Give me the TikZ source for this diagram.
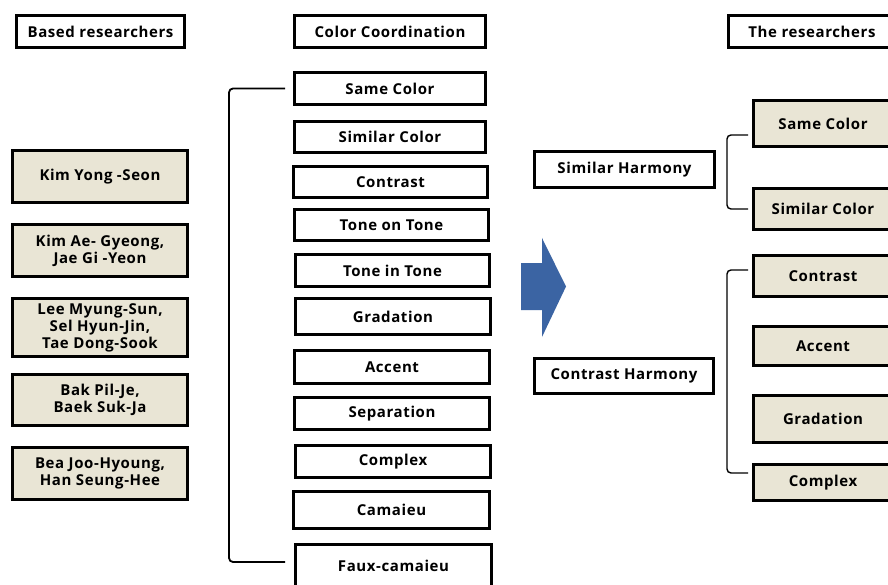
\documentclass[tikz,border=0pt]{standalone}
\usepackage{fontspec}
\setmainfont{Open Sans}[LetterSpace=4]
\definecolor{tanfill}{HTML}{E9E5D5}
\definecolor{arrowblue}{HTML}{3B64A3}
\begin{document}
\begin{tikzpicture}[x=1pt,y=-1pt,
  box/.style={draw=black, line width=2.8pt, inner sep=0pt, align=center,
    font=\fontsize{15}{17}\selectfont\bfseries},
  wbox/.style={box, fill=white},
  tbox/.style={box, fill=tanfill},
  bracket/.style={draw=black, line width=1.8pt, rounded corners=4pt}]
\useasboundingbox[fill=white] (0,0) rectangle (888,585);

% headers
\node[wbox, minimum width=168pt, minimum height=32pt] (based) at (100.5,31.5) {Based researchers};
\node[wbox, minimum width=191pt, minimum height=32pt] (coord) at (390,31.5) {Color Coordination};
\node[wbox, minimum width=167pt, minimum height=32pt] (them) at (812,31.5) {The researchers};

% left column
\node[tbox, minimum width=175pt, minimum height=52pt] (kim1) at (100,176.5) {Kim Yong -Seon};
\node[tbox, minimum width=175pt, minimum height=52pt] (kim2) at (100,250.5) {Kim Ae- Gyeong,\\Jae Gi -Yeon};
\node[tbox, minimum width=175pt, minimum height=58pt] (lee) at (100,327.5) {Lee Myung-Sun,\\Sel Hyun-Jin,\\Tae Dong-Sook};
\node[tbox, minimum width=175pt, minimum height=51pt] (bak) at (100,400) {Bak Pil-Je,\\Baek Suk-Ja};
\node[tbox, minimum width=175pt, minimum height=52pt] (bea) at (100,473.5) {Bea Joo-Hyoung,\\Han Seung-Hee};

% middle column
\node[wbox, minimum width=191pt, minimum height=32pt] (same) at (390,88.5) {Same Color};
\node[wbox, minimum width=191pt, minimum height=31pt] (similar) at (390,137) {Similar Color};
\node[wbox, minimum width=194pt, minimum height=31pt] (contrast) at (390.5,182) {Contrast};
\node[wbox, minimum width=194pt, minimum height=31pt] (tot) at (391.5,225) {Tone on Tone};
\node[wbox, minimum width=194pt, minimum height=32pt] (tit) at (392.5,270.5) {Tone in Tone};
\node[wbox, minimum width=195pt, minimum height=36pt] (grad) at (393,316.5) {Gradation};
\node[wbox, minimum width=195pt, minimum height=33pt] (accent) at (392,367) {Accent};
\node[wbox, minimum width=195pt, minimum height=32pt] (sep) at (392,413.5) {Separation};
\node[wbox, minimum width=195pt, minimum height=32pt] (complex) at (393,461.5) {Complex};
\node[wbox, minimum width=196pt, minimum height=37pt] (cam) at (391.5,510) {Camaieu};
\node[wbox, minimum width=196pt, minimum height=43pt] (faux) at (393.5,566) {Faux-camaieu};

% middle bracket
\draw[bracket] ([xshift=-8pt]same.west) -- (229,88.5) -- (229,562) -- ([xshift=-9pt,yshift=4pt]faux.west);

% arrow
\fill[arrowblue] (521,263) -- (542,263) -- (542,238) -- (566,286.5) -- (542,337) -- (542,310) -- (521,310) -- cycle;

% right side
\node[wbox, minimum width=180pt, minimum height=36pt] (simh) at (624.5,169.5) {Similar Harmony};
\node[wbox, minimum width=179pt, minimum height=35pt] (conh) at (624,376) {Contrast Harmony};

\node[tbox, minimum width=139pt, minimum height=46pt] (rsame) at (823,123.5) {Same Color};
\node[tbox, minimum width=139pt, minimum height=41pt] (rsim) at (823,209) {Similar Color};
\node[tbox, minimum width=139pt, minimum height=41pt] (rcon) at (823,276) {Contrast};
\node[tbox, minimum width=139pt, minimum height=39pt] (racc) at (823,346) {Accent};
\node[tbox, minimum width=139pt, minimum height=47pt] (rgrad) at (823,419) {Gradation};
\node[tbox, minimum width=139pt, minimum height=36pt] (rcomp) at (823,482.5) {Complex};

% right brackets
\draw[bracket, line width=1.4pt] ([xshift=-4pt,yshift=-11.5pt]rsame.west) -- (727,135) -- (727,209) -- ([xshift=-4pt]rsim.west);
\draw[bracket, line width=1.4pt] ([xshift=-4pt,yshift=6pt]rcon.west) -- (727,270) -- (727,473) -- ([xshift=-4pt,yshift=9.5pt]rcomp.west);
\end{tikzpicture}
\end{document}
